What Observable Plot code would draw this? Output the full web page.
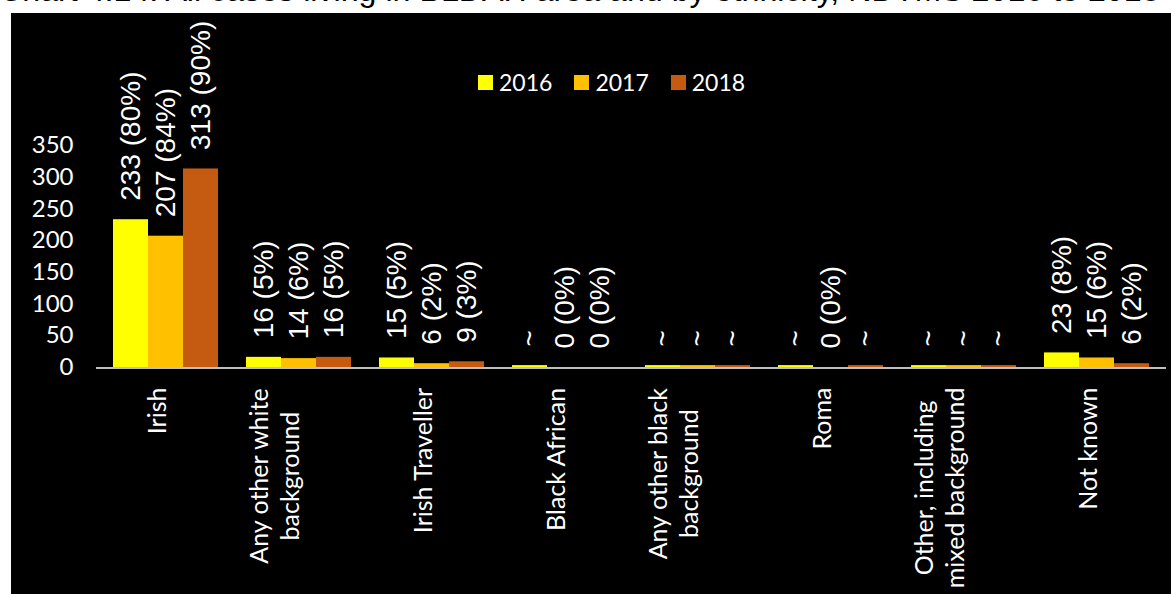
<!DOCTYPE html>
<html>
<head>
<meta charset="utf-8">
<script src="https://cdn.jsdelivr.net/npm/d3@7"></script>
<script src="https://cdn.jsdelivr.net/npm/@observablehq/plot@0.6"></script>
<style>
  html, body { margin: 0; padding: 0; background: #ffffff; }
  body { width: 1171px; height: 594px; position: relative; overflow: hidden; }
  #title { position: absolute; left: -1px; top: -26px; font-family: "Liberation Sans", Arial, sans-serif; font-size: 32.2px; line-height: 32px; color: #000; white-space: nowrap; }
  #panel { position: absolute; left: 11px; top: 13px; width: 1160px; height: 581px; background: #000; }
  #legend { position: absolute; left: 467px; top: 55px; display: flex; align-items: center; font-family: Lato, sans-serif; font-size: 23px; color: #fff; }
  #legend .sw { width: 15px; height: 15px; margin-right: 6px; }
  #legend .lab { margin-right: 22px; }
</style>
</head>
<body>
<div id="title"></div>
<div id="panel"><div id="legend"></div></div>
<script>
const titleText = "Chart 4.14: All cases living in BLDAH area and by ethnicity, NDTMS 2016 to 2018";
const categories = ["Irish", "Any other white\nbackground", "Irish Traveller", "Black African", "Any other black\nbackground", "Roma", "Other, including\nmixed background", "Not known"];
const years = ["2016", "2017", "2018"];
const colors = ["#FFFF00", "#FFC000", "#C55A11"];
const values2016 = [233, 16, 15, 3, 3, 3, 3, 23];
const values2017 = [207, 14, 6, 0, 3, 0, 3, 15];
const values2018 = [313, 16, 9, 0, 3, 3, 3, 6];
const labels2016 = ["233 (80%)", "16 (5%)", "15 (5%)", "~", "~", "~", "~", "23 (8%)"];
const labels2017 = ["207 (84%)", "14 (6%)", "6 (2%)", "0 (0%)", "~", "0 (0%)", "~", "15 (6%)"];
const labels2018 = ["313 (90%)", "16 (5%)", "9 (3%)", "0 (0%)", "~", "~", "~", "6 (2%)"];
const yTicks = [0, 50, 100, 150, 200, 250, 300, 350];

document.getElementById("title").textContent = titleText;

const series = [values2016, values2017, values2018];
const seriesLabels = [labels2016, labels2017, labels2018];
const rows = [];
categories.forEach((c, i) => {
  years.forEach((yr, j) => {
    rows.push({category: c, year: yr, value: series[j][i], label: seriesLabels[j][i]});
  });
});

// legend
const legend = document.getElementById("legend");
years.forEach((yr, j) => {
  const sw = document.createElement("div");
  sw.className = "sw"; sw.style.background = colors[j];
  const lab = document.createElement("span");
  lab.className = "lab"; lab.textContent = yr;
  legend.appendChild(sw); legend.appendChild(lab);
});

// category labels: centred lines, block top anchored just under the axis
const catSize = 25;
const ctx = document.createElement("canvas").getContext("2d");
ctx.font = catSize + "px Lato";
const catMarks = categories.map(c => {
  const w = Math.max(...c.split("\n").map(s => ctx.measureText(s).width));
  return Plot.text([c], {
    fx: d => d, text: d => d, frameAnchor: "bottom", rotate: -90,
    textAnchor: "middle", dy: 20 + w / 2, lineHeight: 1.22,
    fill: "white", fontFamily: "Lato", fontSize: catSize
  });
});

const W = 1160, H = 581, ML = 85, MR = 5, MT = 132, MB = 227;
const plot = Plot.plot({
  width: W, height: H,
  marginLeft: ML, marginRight: MR, marginTop: MT, marginBottom: MB,
  style: {background: "black", color: "white", fontFamily: "Lato", fontSize: "24px", overflow: "visible"},
  fx: {domain: categories, paddingInner: 0.2, paddingOuter: 0.1, axis: null, label: null},
  x: {domain: years, padding: 0, axis: null},
  y: {domain: [0, 350], ticks: yTicks, tickSize: 0, tickPadding: 39, label: null, grid: false},
  color: {domain: years, range: colors},
  marks: [
    Plot.barY(rows, {fx: "category", x: "year", y: "value", fill: "year"}),
    Plot.text(rows, {fx: "category", x: "year", y: "value", text: "label", rotate: -90,
      textAnchor: "start", dy: -19, fill: "white",
      fontFamily: "Liberation Sans, Arial, sans-serif", fontSize: 28}),
    ...catMarks
  ]
});

// continuous category-axis baseline across all facets (just beneath the bars), from Plot's own scales
const fxRange = plot.scale("fx").range;
const y0 = plot.scale("y").apply(0);
d3.select(plot).append("line")
  .attr("x1", fxRange[0]).attr("x2", fxRange[1])
  .attr("y1", y0 + 1).attr("y2", y0 + 1)
  .attr("stroke", "#BFBFBF").attr("stroke-width", 2);

document.getElementById("panel").insertBefore(plot, document.getElementById("legend"));
</script>
</body>
</html>
